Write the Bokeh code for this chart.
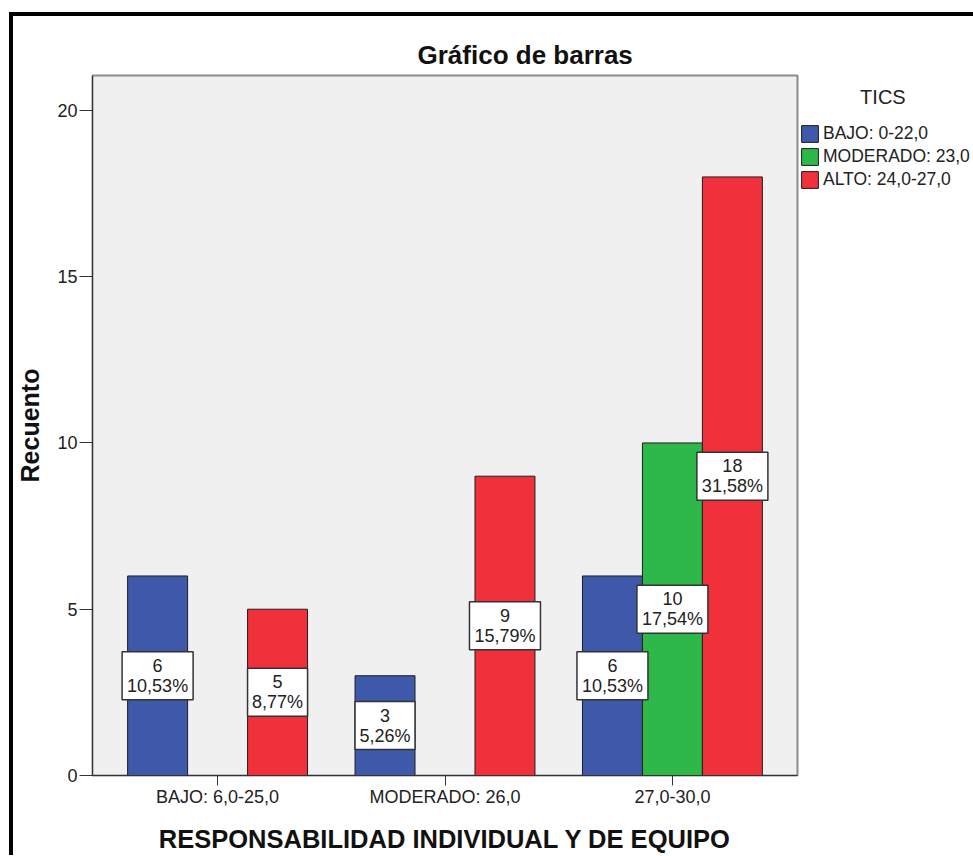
from bokeh.plotting import figure
from bokeh.models import FixedTicker, Legend, LegendItem, ColumnDataSource
from bokeh.core.properties import value
from bokeh.embed import file_html
from bokeh.resources import INLINE

# ---- data ----
groups = ["BAJO: 6,0-25,0", "MODERADO: 26,0", "27,0-30,0"]
legend_title = "TICS"
series = ["BAJO: 0-22,0", "MODERADO: 23,0", "ALTO: 24,0-27,0"]
bajo_counts = [6, 3, 6]
moderado_counts = [0, 0, 10]
alto_counts = [5, 9, 18]
bajo_pct = ["10,53%", "5,26%", "10,53%"]
moderado_pct = ["", "", "17,54%"]
alto_pct = ["8,77%", "15,79%", "31,58%"]
y_ticks = [0, 5, 10, 15, 20]
colors = ["#3e58aa", "#2eb84a", "#f0303a"]

FONT = "Liberation Sans"
BAR_W = 0.2637  # fraction of group spacing
offsets = [-BAR_W, 0.0, BAR_W]

p = figure(
    frame_width=705, frame_height=700,
    min_border_left=79, min_border_right=174,
    min_border_top=59, min_border_bottom=79,
    x_range=(-0.55, 2.55), y_range=(0, 21.05),
    output_backend="svg", toolbar_location=None,
)
p.styles = {"border-left": "4px solid black", "border-top": "4px solid black",
            "margin-left": "9px", "margin-top": "12px"}

p.background_fill_color = "#f0f0f0"
p.border_fill_color = "white"
p.outline_line_color = "#8c8c8c"
p.outline_line_width = 2
p.xgrid.visible = False
p.ygrid.visible = False

# title
p.title.text = "Gráfico de barras"
p.title.align = "left"
p.title.offset = 325
p.title.text_font = FONT
p.title.text_font_size = "26px"
p.title.text_font_style = "bold"
p.title.text_color = "#111111"
p.title.standoff = 11

# bars
all_counts = [bajo_counts, moderado_counts, alto_counts]
all_pcts = [bajo_pct, moderado_pct, alto_pct]
renderers = []
lab_x, lab_y, lab_t, lab_w = [], [], [], []
for s_i, (counts, pcts) in enumerate(zip(all_counts, all_pcts)):
    xs, tops = [], []
    for g_i, (c, pc) in enumerate(zip(counts, pcts)):
        if c > 0:
            xs.append(g_i + offsets[s_i])
            tops.append(c)
            lab_x.append(g_i + offsets[s_i])
            lab_y.append(c / 2)
            lab_t.append(f"{c}\n{pc}")
            lab_w.append(max(60, 11.5 * len(pc) + 2))
    src = ColumnDataSource(dict(x=xs, top=tops))
    r = p.vbar(x="x", top="top", bottom=0, width=BAR_W, source=src,
               fill_color=colors[s_i], line_color="#1e1e1e", line_width=1)
    renderers.append(r)

lab_src = ColumnDataSource(dict(x=lab_x, y=lab_y, t=lab_t, w=lab_w))
p.rect(x="x", y="y", width="w", height=48, width_units="screen", height_units="screen",
       source=lab_src, fill_color="white", line_color="#333333", line_width=1.5)
p.text(x="x", y="y", text="t", source=lab_src, text_font=value(FONT),
       text_font_size="18px", text_align="center", text_baseline="middle",
       text_line_height=1.0, text_color="#222222")

# axes
xa = p.xaxis[0]
xa.ticker = FixedTicker(ticks=[0, 1, 2])
xa.major_label_overrides = {i: g for i, g in enumerate(groups)}
xa.minor_tick_line_color = None
xa.major_tick_in = 0
xa.major_tick_out = 10
xa.major_label_standoff = 1
xa.axis_line_color = "#333333"
xa.major_tick_line_color = "#333333"
xa.major_label_text_font = FONT
xa.major_label_text_font_size = "18px"
xa.major_label_text_color = "#222222"
xa.axis_label = "RESPONSABILIDAD INDIVIDUAL Y DE EQUIPO"
xa.axis_label_text_font = FONT
xa.axis_label_text_font_size = "25.5px"
xa.axis_label_text_font_style = "bold"
xa.axis_label_text_color = "#111111"
xa.axis_label_standoff = 15

ya = p.yaxis[0]
ya.ticker = FixedTicker(ticks=y_ticks)
ya.minor_tick_line_color = None
ya.major_tick_in = 0
ya.major_tick_out = 13
ya.major_label_standoff = 2
ya.axis_line_color = "#333333"
ya.major_tick_line_color = "#333333"
ya.major_label_text_font = FONT
ya.major_label_text_font_size = "18px"
ya.major_label_text_color = "#222222"
ya.axis_label = "Recuento"
ya.axis_label_text_font = FONT
ya.axis_label_text_font_size = "25px"
ya.axis_label_text_font_style = "bold"
ya.axis_label_text_color = "#111111"
ya.axis_label_standoff = 10

# legend (right panel); title nudged to sit centred above the entries
legend = Legend(
    items=[LegendItem(label=s, renderers=[r]) for s, r in zip(series, renderers)],
    location=(2, 585), orientation="vertical",
    title="\u00a0" * 11 + legend_title, title_text_font=FONT, title_text_font_size="20px",
    title_text_font_style="normal", title_text_color="#222222", title_standoff=14,
    glyph_width=21, glyph_height=21, label_standoff=3, spacing=2,
    padding=0, margin=0,
    background_fill_alpha=0, border_line_alpha=0,
    label_text_font=FONT, label_text_font_size="17.5px", label_text_color="#222222",
)
p.add_layout(legend, "right")

open("out.html", "w").write(file_html(p, INLINE))
